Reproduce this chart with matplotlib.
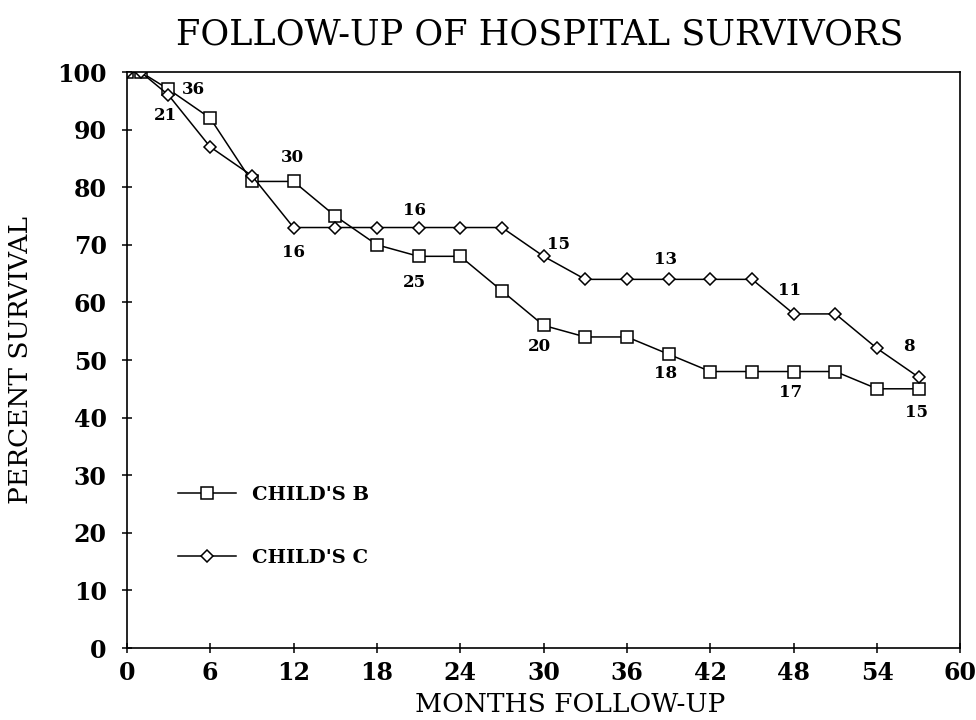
import matplotlib
matplotlib.use("Agg")
import matplotlib.pyplot as plt

months_b = [0, 1, 3, 6, 9, 12, 15, 18, 21, 24, 27, 30, 33, 36, 39, 42, 45, 48, 51, 54, 57]
surv_b = [100, 100, 97, 92, 81, 81, 75, 70, 68, 68, 62, 56, 54, 54, 51, 48, 48, 48, 48, 45, 45]
months_c = [0, 1, 3, 6, 9, 12, 15, 18, 21, 24, 27, 30, 33, 36, 39, 42, 45, 48, 51, 54, 57]
surv_c = [100, 100, 96, 87, 82, 73, 73, 73, 73, 73, 73, 68, 64, 64, 64, 64, 64, 58, 58, 52, 47]

# at-risk counts (label, x, y)
labels_b = ["36", "30", "25", "20", "18", "17", "15"]
labels_b_x = [4.8, 11.9, 20.7, 29.7, 38.8, 47.8, 56.8]
labels_b_y = [97.0, 85.1, 63.5, 52.3, 47.7, 44.3, 40.9]
labels_c = ["21", "16", "16", "15", "13", "11", "8"]
labels_c_x = [2.8, 12.0, 20.7, 31.1, 38.8, 47.7, 56.3]
labels_c_y = [92.5, 68.6, 75.9, 70.1, 67.4, 62.1, 52.3]

xticks = list(range(0, 61, 6))
yticks = list(range(0, 101, 10))

plt.rcParams['font.family'] = ['DejaVu Serif']

fig = plt.figure(figsize=(9.76, 7.2), dpi=100)
ax = fig.add_axes([0.1299, 0.1, 0.8542, 0.8])

ax.plot(months_b, surv_b, color='black', lw=1.1, marker='s', markersize=9,
        markerfacecolor='white', markeredgecolor='black', markeredgewidth=1.1,
        label="CHILD'S B")
ax.plot(months_c, surv_c, color='black', lw=1.1, marker='D', markersize=6,
        markerfacecolor='white', markeredgecolor='black', markeredgewidth=1.1,
        label="CHILD'S C")

for t, x, y in zip(labels_b, labels_b_x, labels_b_y):
    ax.text(x, y, t, ha='center', va='center', fontsize=12, fontweight='bold')
for t, x, y in zip(labels_c, labels_c_x, labels_c_y):
    ax.text(x, y, t, ha='center', va='center', fontsize=12, fontweight='bold')

ax.set_xlim(0, 60)
ax.set_ylim(0, 100)
ax.set_xticks(xticks)
ax.set_yticks(yticks)
ax.tick_params(direction='inout', length=7, width=1.1, labelsize=17)
ax.tick_params(axis='y', pad=11)
ax.tick_params(axis='x', pad=6)
for lab in ax.get_xticklabels() + ax.get_yticklabels():
    lab.set_fontweight('bold')
for s in ax.spines.values():
    s.set_linewidth(1.2)

ax.set_xlabel("MONTHS FOLLOW-UP", fontsize=19)
ax.xaxis.label.set_va('center')
ax.xaxis.set_label_coords(0.532, -0.098)
ax.set_ylabel("PERCENT SURVIVAL", fontsize=19)
ax.yaxis.label.set_va('center')
ax.yaxis.set_label_coords(-0.128, 0.5)
fig.text(0.553, 0.952, "FOLLOW-UP OF HOSPITAL SURVIVORS", ha='center', va='center',
         fontsize=25.3)

leg = ax.legend(loc='center left', bbox_to_anchor=(0.0614, 0.211), frameon=False,
                handlelength=3.0, labelspacing=2.3, handletextpad=0.8,
                borderpad=0, borderaxespad=0,
                prop={'weight': 'bold', 'size': 14})

fig.savefig("out.png", dpi=100)
